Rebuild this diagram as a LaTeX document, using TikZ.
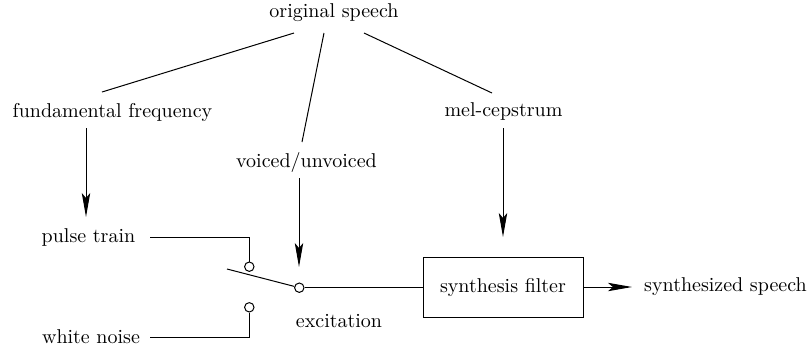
\documentclass[tikz,border=0pt]{standalone}
\usetikzlibrary{arrows.meta}
\begin{document}
\begin{tikzpicture}[x=0.5pt,y=-0.5pt,
  lbl/.style={inner sep=0pt},
  link/.style={line width=0.5pt},
  flow/.style={line width=0.5pt,-{Stealth[length=12pt,width=4.2pt,inset=2.5pt]}},
  contact/.style={circle,draw,line width=0.5pt,fill=white,inner sep=0pt,minimum size=4.7pt},
  filterbox/.style={rectangle,draw,line width=0.5pt,minimum width=80pt,minimum height=30pt,inner sep=0pt}]
\useasboundingbox (0,0) rectangle (811,350);

% labels
\node[lbl] (orig)  at (334,13)  {original speech};
\node[lbl] (ff)    at (112.5,112) {fundamental frequency};
\node[lbl] (mel)   at (503.5,111) {mel-cepstrum};
\node[lbl] (vuv)   at (306.5,162) {voiced/unvoiced};
\node[lbl] (pulse) at (88.5,237) {pulse train};
\node[lbl] (noise) at (91,337) {white noise};
\node[lbl] (exc)   at (339,321) {excitation};
\node[filterbox] (filt) at (503,287) {synthesis filter};
\node[lbl] (out)   at (725.5,287) {synthesized speech};

% switch contacts
\node[contact] (cp) at (249.3,266.7) {};
\node[contact] (cn) at (249.3,307.3) {};
\node[contact] (cx) at (299.3,287.7) {};

% connector end points
\coordinate (o1) at (294,33);   \coordinate (f1) at (102,92);
\coordinate (o2) at (324,33);   \coordinate (v1) at (302,142);
\coordinate (o3) at (364,33);   \coordinate (m1) at (492,93);
\coordinate (f2) at (86,128);   \coordinate (f3) at (86,217);
\coordinate (v2) at (299,178);  \coordinate (v3) at (299,267);
\coordinate (m2) at (503,128);  \coordinate (m3) at (503,237);
\coordinate (p1) at (150,237);  \coordinate (n1) at (150,337);
\coordinate (lever) at (227,269);

% analysis branches
\draw[link] (o1) -- (f1);
\draw[link] (o2) -- (v1);
\draw[link] (o3) -- (m1);

% control arrows
\draw[flow] (f2) -- (f3);
\draw[flow] (v2) -- (v3);
\draw[flow] (m2) -- (m3);

% excitation sources and switch
\draw[link] (p1) -| (cp.north);
\draw[link] (n1) -| (cn.south);
\draw[link] (lever) -- (cx);
\draw[link] (cx.east) -- (filt.west |- cx.east);
\draw[flow] (filt.east) -- (632,287);
\end{tikzpicture}
\end{document}
